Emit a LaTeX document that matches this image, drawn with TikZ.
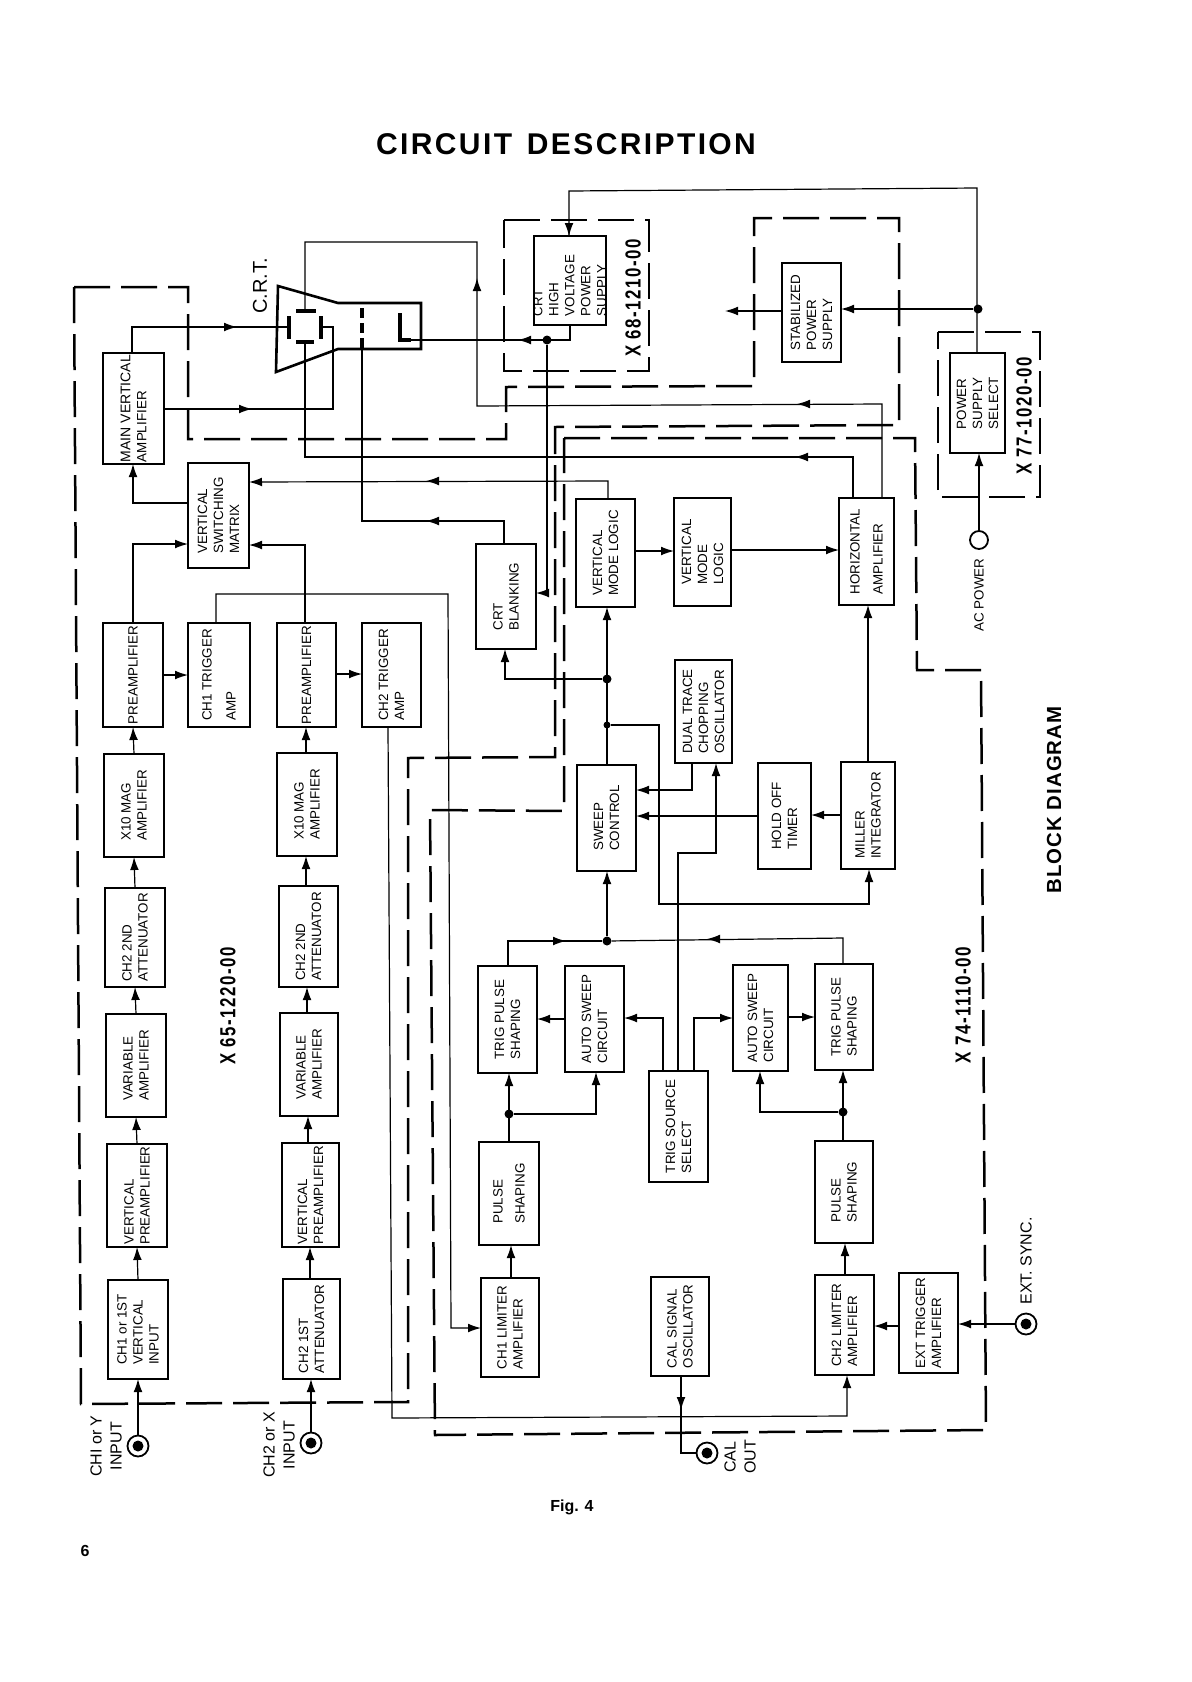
\documentclass[tikz,border=0pt]{standalone}
\usepackage{fontspec}
\usepackage{graphicx}
\setmainfont{Liberation Sans}
\usetikzlibrary{arrows.meta,calc}
\tikzset{
  boxs/.style={draw,line width=1pt,inner sep=0pt,outer sep=0pt,rectangle},
  lab/.style={rotate=90,align=left,inner sep=0pt,font=\fontsize{6.7}{8}\selectfont},
  lc/.style={align=center},
  wire/.style={draw,line width=.6pt},
  arr/.style={-{Latex[length=6.5pt,width=4.4pt]}},
  grp/.style={draw,line width=1.25pt,dash pattern=on 18pt off 5.5pt},
  tube/.style={draw,line width=1.3pt,line join=miter},
  plate/.style={draw,line width=2pt},
  jack/.style={circle,draw,line width=.9pt,minimum size=10.5pt,inner sep=0pt,outer sep=0pt},
  jackc/.style={circle,fill,minimum size=5.5pt,inner sep=0pt},
  dot/.style={circle,fill,minimum size=4.5pt,inner sep=0pt},
  side/.style={rotate=90,align=center,inner sep=0pt,font=\fontsize{8}{10}\selectfont},
  partno/.style={rotate=90,inner sep=0pt},
}
\newcommand\blk[7][]{%
  \node[boxs,minimum width={(#5-#3)*0.5pt},minimum height={(#6-#4)*0.5pt}] (#2) at ({(#3+#5)/2},{(#4+#6)/2}) {};
  \node[#1,lab] (#2t) at (#2.center) {#7};}
\newcommand\tip[4]{\draw[wire,arr] (#1,#2) ++(#3,#4) -- (#1,#2);}
\newcommand\pn[4]{\node[partno] (#1) at (#2,#3) {\resizebox{58.5pt}{7.6pt}{\bfseries\addfontfeature{LetterSpace=9}#4}};}
\begin{document}
\begin{tikzpicture}[x=0.5pt,y=-0.5pt]
\useasboundingbox (0,0) rectangle (1191,1682);
% headings
\node[inner sep=0pt] (title) at (566,144) {\fontsize{15}{18}\selectfont\bfseries\addfontfeature{LetterSpace=8}CIRCUIT\hspace{2pt} DESCRIPTION};
\node[inner sep=0pt] (fig) at (572,1507) {\fontsize{8}{10}\selectfont\bfseries Fig. 4};
\node[inner sep=0pt] (page) at (85,1551) {\fontsize{8}{10}\selectfont\bfseries 6};
\node[rotate=90,inner sep=0pt] (bd) at (1054,800) {\fontsize{10.2}{12}\selectfont\bfseries\addfontfeature{LetterSpace=5}BLOCK DIAGRAM};
\node[rotate=90,inner sep=0pt] (crt) at (260,286) {\fontsize{10}{12}\selectfont C.R.T.};
% dashed groups
\draw[grp] (74,287) -- (188,287) -- (188,439) -- (506,439) -- (506,387) -- (754,386) -- (754,218) -- (899,218) -- (899,425) -- (555,427) -- (555,757) -- (408,758) -- (408,1402) -- (81,1404) -- cycle;
\draw[grp] (564,438) -- (915,438) -- (917,670) -- (981,670) -- (986,1430) -- (435,1435) -- (430,810) -- (564,811) -- cycle;
\draw[grp] (504,220) -- (649,220) -- (649,371) -- (504,371) -- cycle;
\draw[grp] (938,332) -- (1040,332) -- (1040,497) -- (938,497) -- cycle;
\pn{x65}{228}{1006}{X 65-1220-00}
\pn{x68}{633}{298}{X 68-1210-00}
\pn{x77}{1024}{416}{X 77-1020-00}
\pn{x74}{963}{1005}{X 74-1110-00}
% blocks
\blk{mva}{103}{353}{164}{464}{\fontsize{7}{8.4}\selectfont MAIN VERTICAL\\AMPLIFIER}
\blk{vsm}{188}{463}{249}{568}{VERTICAL\\SWITCHING\\MATRIX}
\blk{pre1}{103}{623}{163}{727}{PREAMPLIFIER}
\blk[lc]{ct1}{188}{623}{250}{727}{CH1 TRIGGER\\[4pt]AMP}
\blk{pre2}{277}{623}{336}{727}{PREAMPLIFIER}
\blk[lc]{ct2}{362}{623}{421}{727}{CH2 TRIGGER\\AMP}
\blk{xa}{104}{754}{164}{857}{X10 MAG\\AMPLIFIER}
\blk{xb}{277}{753}{337}{856}{X10 MAG\\AMPLIFIER}
\blk{ata}{105}{888}{165}{987}{CH2 2ND\\ATTENUATOR}
\blk{atb}{279}{886}{338}{987}{CH2 2ND\\ATTENUATOR}
\blk{va}{106}{1014}{166}{1117}{VARIABLE\\AMPLIFIER}
\blk{vb}{280}{1013}{338}{1116}{VARIABLE\\AMPLIFIER}
\blk{vpa}{107}{1144}{167}{1247}{VERTICAL\\PREAMPLIFIER}
\blk{vpb}{282}{1143}{339}{1247}{VERTICAL\\PREAMPLIFIER}
\blk{chin}{108}{1280}{168}{1379}{CH1 or 1ST\\VERTICAL\\INPUT}
\blk{chat}{283}{1279}{340}{1379}{CH2 1ST\\ATTENUATOR}
\blk{lim1}{481}{1278}{539}{1377}{CH1 LIMITER\\AMPLIFIER}
\blk{ps1}{479}{1142}{539}{1245}{PULSE\\[3pt]SHAPING}
\blk{tp1}{478}{966}{537}{1073}{TRIG PULSE\\SHAPING}
\blk{as1}{565}{966}{624}{1072}{AUTO SWEEP\\CIRCUIT}
\blk{as2}{733}{965}{788}{1071}{AUTO SWEEP\\CIRCUIT}
\blk{tp2}{815}{964}{873}{1070}{TRIG PULSE\\SHAPING}
\blk{tss}{649}{1071}{708}{1182}{TRIG SOURCE\\SELECT}
\blk{ps2}{815}{1141}{873}{1243}{PULSE\\SHAPING}
\blk{cal}{651}{1277}{709}{1376}{CAL SIGNAL\\OSCILLATOR}
\blk{lim2}{815}{1275}{874}{1375}{CH2 LIMITER\\AMPLIFIER}
\blk{ext}{899}{1273}{958}{1373}{EXT TRIGGER\\AMPLIFIER}
\blk{swp}{577}{765}{636}{871}{SWEEP\\CONTROL}
\blk{dual}{675}{660}{732}{763}{DUAL TRACE\\CHOPPING\\OSCILLATOR}
\blk{hold}{758}{763}{811}{869}{HOLD OFF\\TIMER}
\blk{mil}{841}{762}{895}{869}{MILLER\\INTEGRATOR}
\blk{vm1}{576}{499}{635}{607}{VERTICAL\\MODE LOGIC}
\blk{vm2}{674}{498}{731}{606}{VERTICAL\\MODE\\LOGIC}
\blk{hor}{839}{498}{894}{605}{HORIZONTAL\\[3.5pt]AMPLIFIER}
\blk{blank}{476}{544}{536}{649}{CRT\\BLANKING}
\blk[yshift=-2.5pt]{hv}{534}{236}{606}{325}{\fontsize{6.5}{6.3}\selectfont CRT\\HIGH\\VOLTAGE\\POWER\\SUPPLY}
\blk{stab}{782}{263}{841}{362}{STABILIZED\\POWER\\SUPPLY}
\blk{pss}{950}{353}{1005}{453}{POWER\\SUPPLY\\SELECT}
% CRT
\draw[tube] (278,286) -- (338,303) -- (421,303) -- (421,349) -- (338,349) -- (276,372) -- cycle;
\draw[plate] (289,316) -- (289,339);
\draw[plate] (321,316) -- (321,339);
\draw[plate] (296,311) -- (316,311);
\draw[plate] (296,342) -- (314,342);
\draw[draw,line width=2pt,dash pattern=on 5pt off 2.5pt] (362,308) -- (362,350);
\draw[plate] (400,313) -- (400,340) -- (411,340);
\coordinate (plateL) at (289,327);
\coordinate (plateR) at (321,327);
\coordinate (plateT) at (305,311);
\coordinate (plateB) at (305,342);
\coordinate (grid) at (362,350);
\coordinate (cath) at (411,340);
% jacks and free ends
\node[jack] (j1) at (138,1446) {}; \node[jackc] (j1c) at (138,1446) {};
\node[jack] (j2) at (311,1443) {}; \node[jackc] (j2c) at (311,1443) {};
\node[jack] (j3) at (707,1453) {}; \node[jackc] (j3c) at (707,1453) {};
\node[jack] (j4) at (1026,1324) {}; \node[jackc] (j4c) at (1026,1324) {};
\node[circle,draw,line width=.9pt,minimum size=9pt,inner sep=0pt,outer sep=0pt] (ac) at (979,540) {};
\coordinate (stabout) at (725,311);
% dots
\node[dot] (d1) at (547,340) {};
\node[dot] (d2) at (978,309) {};
\node[dot] (d3) at (607,679) {};
\node[dot,minimum size=3.5pt] (d4) at (607,725) {};
\node[dot] (d5) at (607,941) {};
\node[dot] (d6) at (509,1114) {};
\node[dot] (d7) at (843,1112) {};
% channel chains
\draw[wire,arr] (j1.north) -- (chin.south -| j1.north);
\draw[wire,arr] (chin.north -| 138,0) -- (vpa.south -| 137,0);
\draw[wire,arr] (vpa.north -| 137,0) -- (va.south -| 136,0);
\draw[wire,arr] (va.north -| 136,0) -- (ata.south -| 135,0);
\draw[wire,arr] (ata.north -| 135,0) -- (xa.south -| 134,0);
\draw[wire,arr] (xa.north -| 134,0) -- (pre1.south -| 133,0);
\draw[wire,arr] (j2.north) -- (chat.south -| j2.north);
\draw[wire,arr] (chat.north -| 310,0) -- (vpb.south -| 310,0);
\draw[wire,arr] (vpb.north -| 308,0) -- (vb.south -| 308,0);
\draw[wire,arr] (vb.north -| 307,0) -- (atb.south -| 307,0);
\draw[wire,arr] (atb.north -| 306,0) -- (xb.south -| 306,0);
\draw[wire,arr] (xb.north -| 306,0) -- (pre2.south -| 306,0);
\draw[wire,arr] (pre1.east |- 0,675) -- (ct1.west |- 0,675);
\draw[wire,arr] (pre2.east |- 0,674) -- (ct2.west |- 0,674);
\draw[wire,arr] (pre1.north -| 133,0) -- (133,544) -- (vsm.west |- 0,544);
\draw[wire,arr] (pre2.north -| 305,0) -- (305,545) -- (vsm.east |- 0,545);
\draw[wire,arr] (vsm.west |- 0,503) -- (133,503) -- (mva.south -| 133,0);
% deflection
\draw[wire] (mva.north -| 132,0) -- (132,327) -- (plateL); \tip{237}{327}{-10}{0}
\draw[wire] (mva.east |- 0,409) -- (333,409) -- (333,327) -- (plateR); \tip{252}{409}{-10}{0}
\draw[wire] (hor.north -| 882,0) -- (882,404) -- (477,406) -- (477,242) -- (305,242) -- (plateT);
\tip{797}{404}{10}{0} \tip{477}{278}{0}{10}
\draw[wire] (hor.north -| 853,0) -- (853,457) -- (305,457) -- (plateB);
\tip{795}{457}{10}{0}
\draw[wire,arr] (vm1.north -| 608,0) -- (608,481) -- (vsm.east |- 0,482);
\tip{426}{481}{10}{0}
\draw[wire] (blank.north -| 504,0) -- (504,521) -- (362,521) -- (grid);
\tip{426}{521}{10}{0}
% CRT supply
\draw[wire] (hv.south -| 570,0) -- (570,340) -- (cath);
\tip{518}{340}{10}{0}
\draw[wire,arr] (d1) -- (547,593) -- (blank.east |- 0,593);
% trigger lines
\draw[wire,arr] (ct1.north -| 216,0) -- (216,594) -- (448,594) -- (451,1328) -- (lim1.west |- 0,1328);
\draw[wire,arr] (ct2.south -| 388,0) -- (392,1418) -- (847,1416) -- (lim2.south -| 847,0);
% sweep
\draw[wire,arr] (swp.north -| 607,0) -- (vm1.south -| 607,0);
\draw[wire,arr] (d3) -- (505,679) -- (blank.south -| 505,0);
\draw[wire,arr] (d4) -- (659,725) -- (659,904) -- (869,904) -- (mil.south -| 869,0);
\draw[wire,arr] (dual.south -| 692,0) -- (692,790) -- (swp.east |- 0,790);
\draw[wire,arr] (hold.west |- 0,816) -- (swp.east |- 0,816);
\draw[wire,arr] (mil.west |- 0,815) -- (hold.east |- 0,815);
\draw[wire,arr] (mil.north -| 868,0) -- (hor.south -| 868,0);
\draw[wire,arr] (vm1.east |- 0,551) -- (vm2.west |- 0,551);
\draw[wire,arr] (vm2.east |- 0,550) -- (hor.west |- 0,550);
% trigger section
\draw[wire,arr] (tss.north -| 663,0) -- (663,1018) -- (as1.east |- 0,1018);
\draw[wire,arr] (tss.north -| 678,0) -- (678,853) -- (716,853) -- (dual.south -| 716,0);
\draw[wire,arr] (tss.north -| 694,0) -- (694,1018) -- (as2.west |- 0,1018);
\draw[wire,arr] (as1.west |- 0,1019) -- (tp1.east |- 0,1019);
\draw[wire,arr] (as2.east |- 0,1017) -- (tp2.west |- 0,1017);
\draw[wire] (tp1.north -| 508,0) -- (508,941) -- (d5); \tip{566}{941}{-10}{0}
\draw[wire] (tp2.north -| 843,0) -- (843,938) -- (d5); \tip{707}{939}{10}{0}
\draw[wire,arr] (d5) -- (swp.south -| 607,0);
\draw[wire,arr] (ps1.north -| 509,0) -- (tp1.south -| 509,0);
\draw[wire,arr] (d6) -- (596,1114) -- (as1.south -| 596,0);
\draw[wire,arr] (lim1.north -| 511,0) -- (ps1.south -| 511,0);
\draw[wire,arr] (ps2.north -| 843,0) -- (tp2.south -| 843,0);
\draw[wire,arr] (d7) -- (760,1112) -- (as2.south -| 760,0);
\draw[wire,arr] (lim2.north -| 845,0) -- (ps2.south -| 845,0);
\draw[wire,arr] (ext.west |- 0,1326) -- (lim2.east |- 0,1326);
\draw[wire,arr] (j4.west) -- (ext.east |- j4.west);
\draw[wire] (cal.south -| 681,0) -- (681,1453) -- (j3.west); \tip{681}{1410}{0}{-10}
% power
\draw[wire] (pss.north -| 977,0) -- (977,188) -- (569,191) -- (569,236);
\tip{569}{236}{0}{-10}
\draw[wire,arr] (d2) -- (stab.east |- d2);
\draw[wire,arr] (stab.west |- stabout) -- (stabout);
\draw[wire,arr] (ac.north) -- (pss.south -| ac.north);
% side labels
\node[side] (l1) at (106,1446) {CHI or Y\\INPUT};
\node[side] (l2) at (279,1445) {CH2 or X\\INPUT};
\node[side] (l3) at (740,1457) {CAL\\OUT};
\node[side] (l4) at (1026,1261) {EXT. SYNC.};
\node[lab] (l5) at (979,595) {AC POWER};
\end{tikzpicture}
\end{document}
